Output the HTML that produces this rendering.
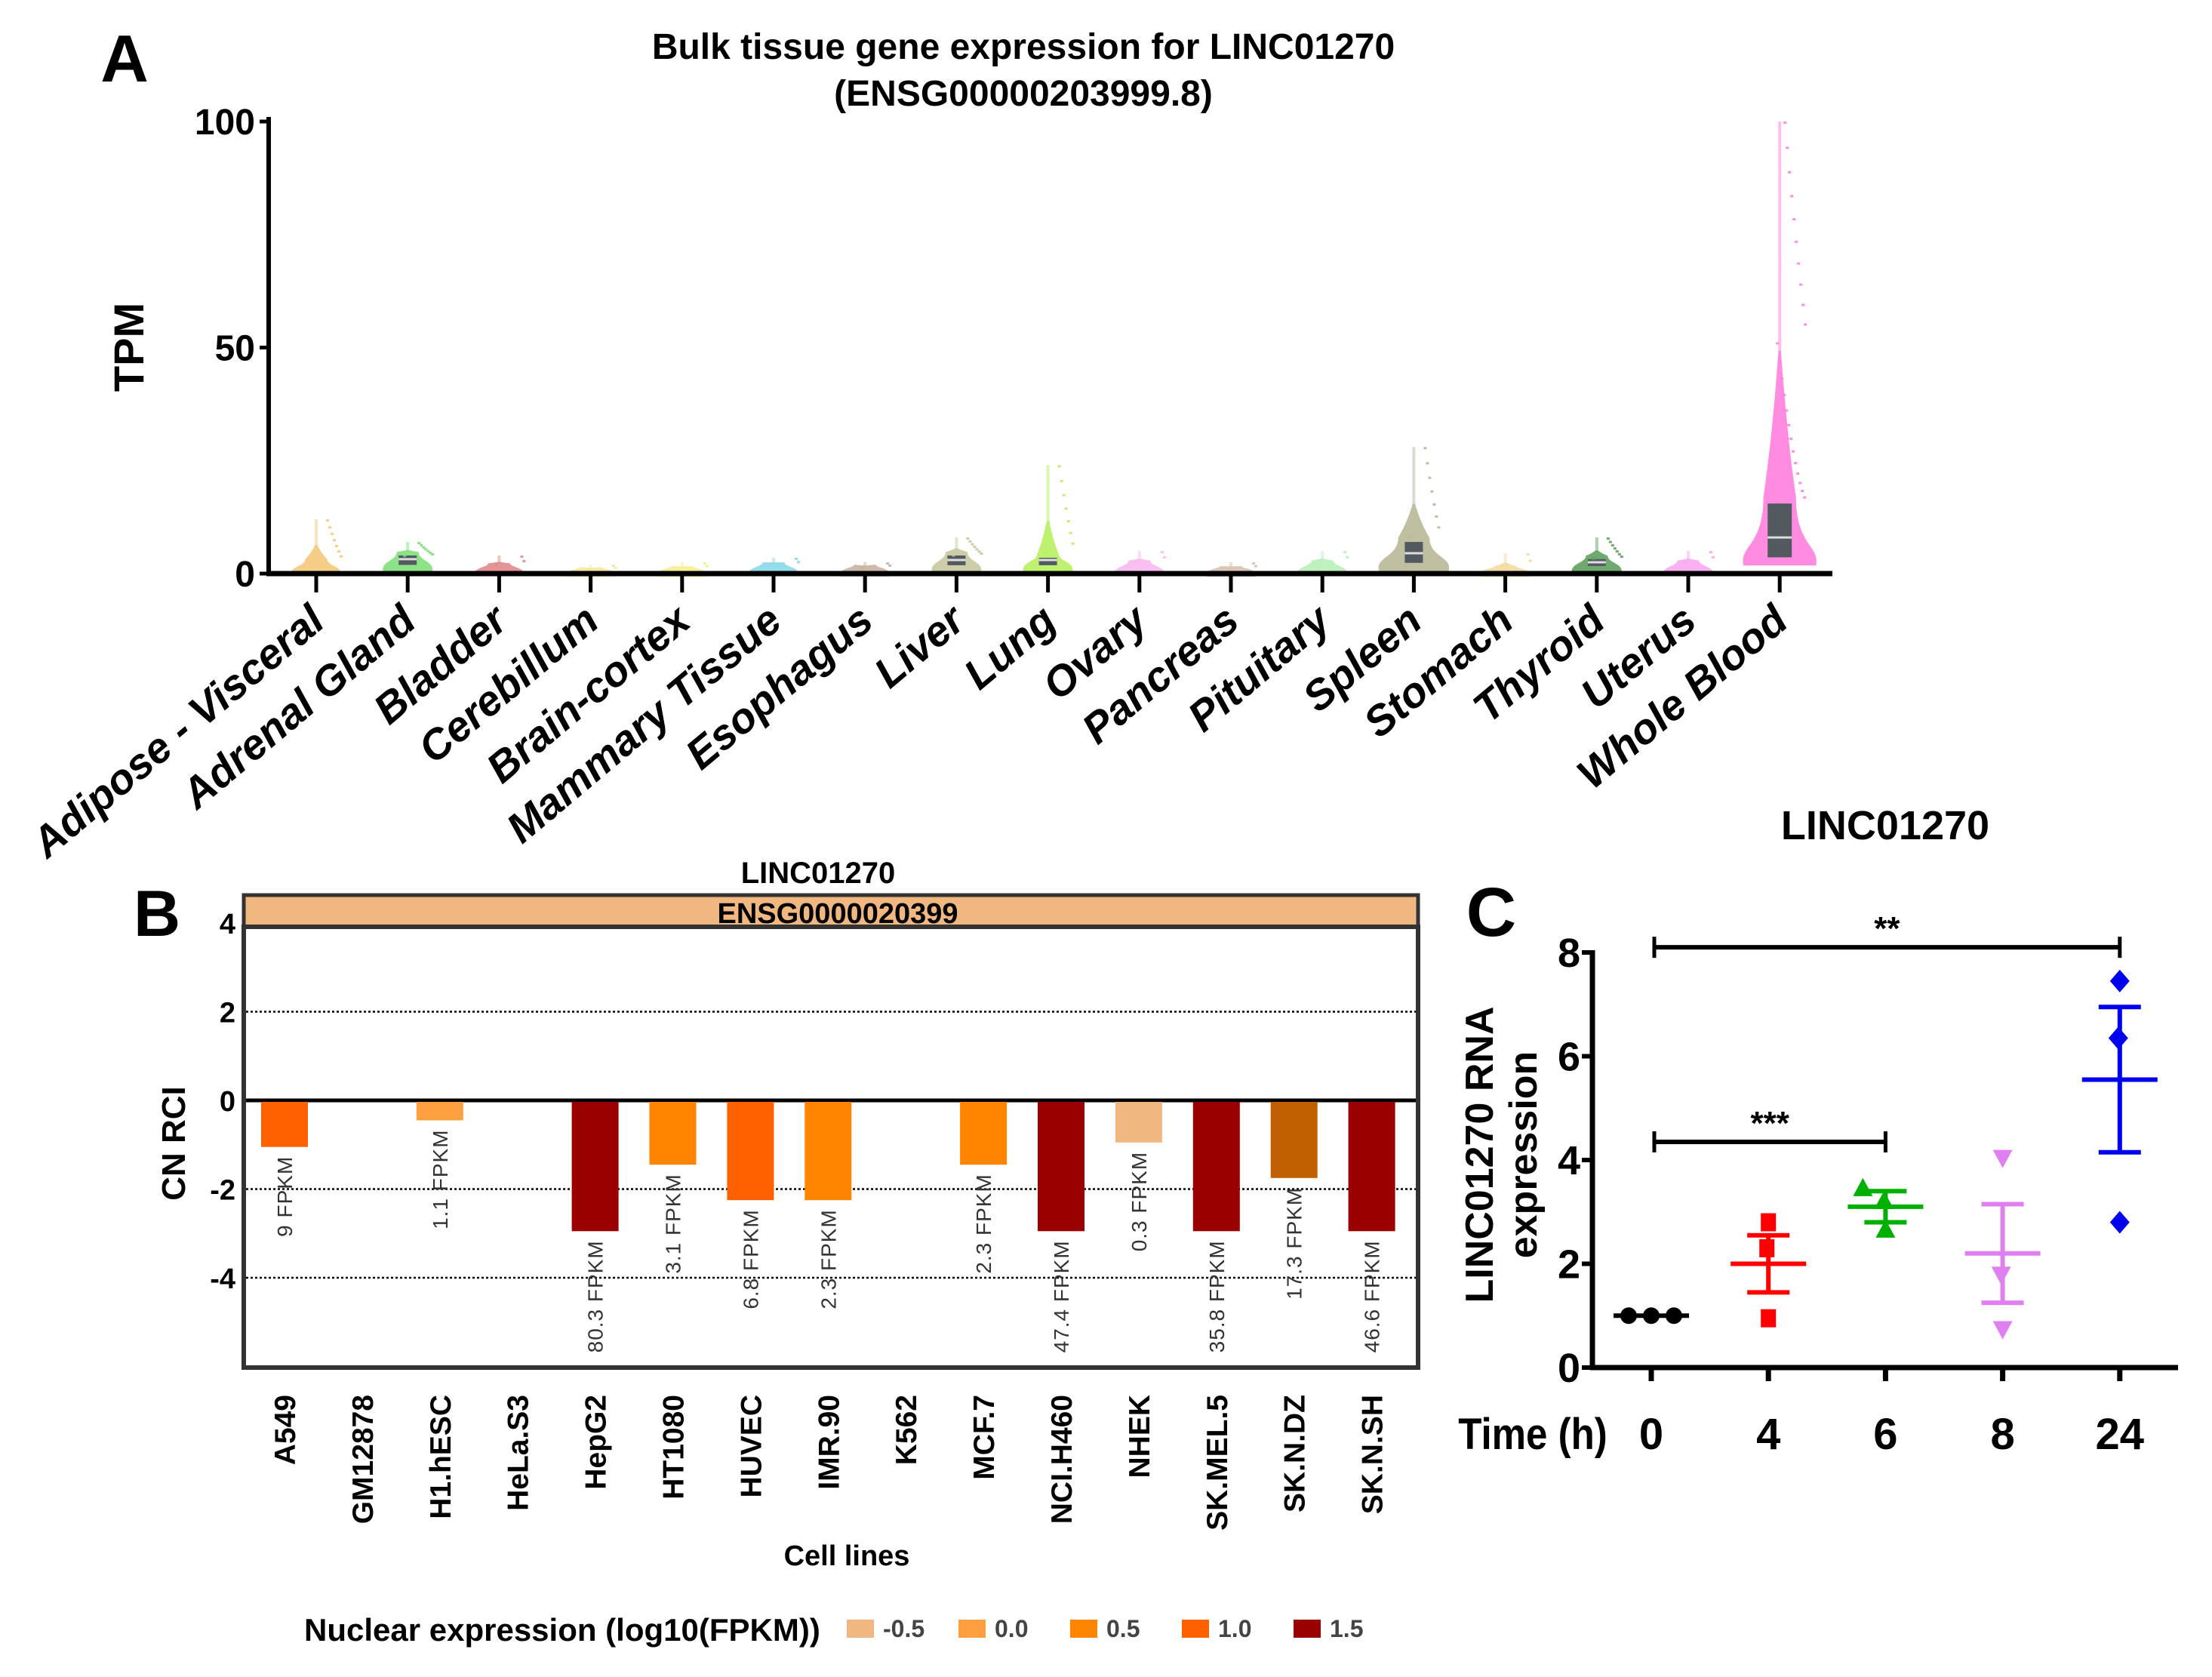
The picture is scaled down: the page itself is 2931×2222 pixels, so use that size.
<!DOCTYPE html>
<html><head><meta charset="utf-8"><style>
html,body{margin:0;padding:0;background:#fff}
svg{display:block}
text{font-family:"Liberation Sans",sans-serif}
</style></head><body>
<svg id="fig" width="2931" height="2222" viewBox="0 0 2931 2222" xmlns="http://www.w3.org/2000/svg">
<g id="pa"></g>
<g id="pb"></g>
<g id="pc"></g>
</svg>
<script>
// ---------- Panel A data ----------
const tissues = ["Adipose - Visceral","Adrenal Gland","Bladder","Cerebillum","Brain-cortex","Mammary Tissue","Esophagus","Liver","Lung","Ovary","Pancreas","Pituitary","Spleen","Stomach","Thyroid","Uterus","Whole Blood"];
const tissueMedian = [1.5,3.2,1.2,0.6,0.8,1.3,1.0,3.0,3.0,1.5,0.8,1.5,4.5,0.8,2.5,1.5,8];
const tissueQ3 = [2.5,4,1.6,0.8,1,1.8,1.3,4,3.5,2.2,1,2.2,7,1,3.2,2.2,15.5];
const tissueMax = [12,7,4,2,2.5,3.5,2.5,8,24,5,2.5,5,28,4.5,8,5,100];
const tissueColor = ["#f5c87a","#7fe07a","#e08a8a","#f5e6a0","#f5ee90","#8ad8e8","#c8b0a0","#c8c8a0","#b8f060","#f8b8f0","#d8c0b0","#b8f0b8","#b8b898","#f5d8a0","#60a060","#f8a8f0","#ff80dd"];
// ---------- Panel B data ----------
const cellLines = ["A549","GM12878","H1.hESC","HeLa.S3","HepG2","HT1080","HUVEC","IMR.90","K562","MCF.7","NCI.H460","NHEK","SK.MEL.5","SK.N.DZ","SK.N.SH"];
const cnRci = [-1.05,null,-0.45,null,-2.95,-1.45,-2.25,-2.25,null,-1.45,-2.95,-0.95,-2.95,-1.75,-2.95];
const fpkmLabels = ["9 FPKM","","1.1 FPKM","","80.3 FPKM","3.1 FPKM","6.8 FPKM","2.3 FPKM","","2.3 FPKM","47.4 FPKM","0.3 FPKM","35.8 FPKM","17.3 FPKM","46.6 FPKM"];
const barColor = ["#ff6000","","#ffa040","","#9b0000","#ff8500","#ff6000","#ff8500","","#ff8500","#9b0000","#f0b880","#9b0000","#c06000","#9b0000"];
const bTicks = [4,2,0,-2,-4];
const legendLabels = ["-0.5","0.0","0.5","1.0","1.5"];
const legendColors = ["#f0b880","#ffa040","#ff8500","#ff6000","#9b0000"];
// ---------- Panel C data ----------
const timeLabels = ["0","4","6","8","24"];
const points = [[1,1,1],[2.8,2.3,0.95],[3.45,3.2,2.65],[4.05,1.8,0.75],[7.45,6.35,2.8]];
const means = [1.0,2.0,3.1,2.2,5.55];
const sems = [0,0.55,0.3,0.95,1.4];
const cColors = ["#000000","#ff0000","#00b000","#e080f0","#0000ee"];
const cTicks = [0,2,4,6,8];

const NS="http://www.w3.org/2000/svg";
function mk(parent,tag,attrs,txt){const e=document.createElementNS(NS,tag);for(const k in attrs)e.setAttribute(k,attrs[k]);if(txt!==undefined)e.textContent=txt;parent.appendChild(e);return e;}

// ===== Panel A =====
const pa=document.getElementById('pa');
const ay=v=>760-(v/100)*599;
const ax=i=>419+i*121.2;
let t;
t=mk(pa,'text',{x:165,y:108,'font-size':88,'font-weight':'bold','text-anchor':'middle'},'A');

t=mk(pa,'text',{x:1356,y:78,'font-size':48,'font-weight':'bold','text-anchor':'middle'},'Bulk tissue gene expression for LINC01270');

t=mk(pa,'text',{x:1356,y:140,'font-size':48,'font-weight':'bold','text-anchor':'middle'},'(ENSG00000203999.8)');

t=mk(pa,'text',{x:0,y:0,'font-size':56,'font-weight':'bold','text-anchor':'middle',transform:'translate(190,460) rotate(-90)'},'TPM');

[0,50,100].forEach(v=>{
  t=mk(pa,'text',{x:338,y:ay(v)+17,'font-size':48,'font-weight':'bold','text-anchor':'end'},String(v));
  
  mk(pa,'line',{x1:344,x2:358,y1:ay(v),y2:ay(v),stroke:'#000','stroke-width':5});
});
// violins
tissues.forEach((n,i)=>{
  const cx=ax(i), base=Math.max(0.3,tissueMedian[i]*0.35), top=tissueMax[i];
  const w = i===16?48:(i===12?46:32);
  const yb=ay(base)+6;
  const yBulge=ay(tissueMedian[i]*0.7+0.5);
  const yNeck=ay(Math.min(top,tissueQ3[i]*1.05+0.6));
  const yThin=ay(Math.min(top,tissueQ3[i]+(top-tissueQ3[i])*0.4));
  const nw=w*0.45;
  const d=`M${cx-w},${yb} C${cx-w-6},${yBulge} ${cx-nw},${yBulge} ${cx-nw},${yNeck} C${cx-nw*0.35},${(yNeck+yThin)/2} ${cx-2},${yThin} ${cx-1.5},${yThin} L${cx+1.5},${yThin} C${cx+2},${yThin} ${cx+nw*0.35},${(yNeck+yThin)/2} ${cx+nw},${yNeck} C${cx+nw},${yBulge} ${cx+w+6},${yBulge} ${cx+w},${yb} Z`;
  const v=mk(pa,'path',{d:d,fill:tissueColor[i],opacity:0.9});
  
  
  mk(pa,'rect',{x:cx-2,y:ay(top),width:4,height:yThin-ay(top)+2,fill:tissueColor[i],opacity:0.5});
  if(tissueQ3[i]>2.5){
    const bw=i===16?16:12;
    const b=mk(pa,'rect',{x:cx-bw,y:ay(tissueQ3[i]),width:bw*2,height:ay(base+0.8)-ay(tissueQ3[i]),fill:'#525a60'});
    
    mk(pa,'line',{x1:cx-bw,x2:cx+bw,y1:ay(tissueMedian[i]),y2:ay(tissueMedian[i]),stroke:'#ddd','stroke-width':3});
  }
  const nd=i===16?24:(top>6?8:3);
  for(let k=0;k<nd;k++){
    const fr=(k+1)/nd;
    const val=tissueQ3[i]+(top-tissueQ3[i])*Math.pow(fr,i===16?1.6:1.3);
    mk(pa,'rect',{x:cx+((k*37)%40)-6,y:ay(val),width:4,height:3,fill:tissueColor[i],opacity:0.9});
  }
  mk(pa,'line',{x1:cx,x2:cx,y1:760,y2:785,stroke:'#000','stroke-width':5});
  t=mk(pa,'text',{x:0,y:0,'font-size':56,'font-weight':'bold','font-style':'italic','text-anchor':'end',transform:`translate(${cx+14},${828}) rotate(-40)`},n);
  
});
mk(pa,'line',{x1:356,x2:356,y1:155,y2:763,stroke:'#000','stroke-width':6});
mk(pa,'line',{x1:353,x2:2428,y1:760,y2:760,stroke:'#000','stroke-width':7});

// ===== Panel B =====
const pb=document.getElementById('pb');
const by=v=>1458-v*58.75;
const bx=i=>377+i*102.9;
t=mk(pb,'text',{x:208,y:1240,'font-size':86,'font-weight':'bold','text-anchor':'middle'},'B');

t=mk(pb,'text',{x:1084,y:1170,'font-size':40,'font-weight':'bold','text-anchor':'middle'},'LINC01270');

let r=mk(pb,'rect',{x:323,y:1186,width:1556,height:42,fill:'#f0b880',stroke:'#333','stroke-width':5});

t=mk(pb,'text',{x:1110,y:1223,'font-size':38,'font-weight':'bold','text-anchor':'middle'},'ENSG0000020399');

r=mk(pb,'rect',{x:323,y:1228,width:1556,height:584,fill:'none',stroke:'#333','stroke-width':6});

bTicks.forEach(v=>{
  if(v!==0&&v!==4){const g=mk(pb,'line',{x1:326,x2:1876,y1:by(v),y2:by(v),stroke:'#000','stroke-width':2.5,'stroke-dasharray':'3,3'});}
  t=mk(pb,'text',{x:312,y:by(v)+14,'font-size':38,'font-weight':'bold','text-anchor':'end'},String(v));
  
});
mk(pb,'line',{x1:326,x2:1876,y1:by(0),y2:by(0),stroke:'#000','stroke-width':5});
t=mk(pb,'text',{x:0,y:0,'font-size':44,'font-weight':'bold','text-anchor':'middle',transform:'translate(245,1515) rotate(-90)'},'CN RCI');

cellLines.forEach((n,i)=>{
  const cx=bx(i);
  if(cnRci[i]!==null){
    const b=mk(pb,'rect',{x:cx-31,y:by(0)+2,width:62,height:by(cnRci[i])-by(0)-2,fill:barColor[i]});
    
    
    const l=mk(pb,'text',{x:0,y:0,'font-size':28,fill:'#333','letter-spacing':1,'text-anchor':'end',transform:`translate(${cx+10},${by(cnRci[i])+12}) rotate(-90)`},fpkmLabels[i]);
    
  }
  t=mk(pb,'text',{x:0,y:0,'font-size':39,'font-weight':'bold','text-anchor':'end',transform:`translate(${cx+14},1848) rotate(-90)`},n);
  
});
t=mk(pb,'text',{x:1122,y:2074,'font-size':38,'font-weight':'bold','text-anchor':'middle'},'Cell lines');

t=mk(pb,'text',{x:403,y:2174,'font-size':42,'font-weight':'bold'},'Nuclear expression (log10(FPKM))');

legendLabels.forEach((lab,i)=>{
  const lx=1122+i*148;
  const s=mk(pb,'rect',{x:lx,y:2146,width:36,height:24,fill:legendColors[i]});
  
  t=mk(pb,'text',{x:lx+48,y:2169,'font-size':32,'font-weight':'bold',fill:'#444'},lab);
  
});

// ===== Panel C =====
const pc=document.getElementById('pc');
const cy=v=>1812-v*68.75;
const cx=i=>2188+i*155.2;
t=mk(pc,'text',{x:1976,y:1240,'font-size':92,'font-weight':'bold','text-anchor':'middle'},'C');

t=mk(pc,'text',{x:2498,y:1112,'font-size':54,'font-weight':'bold','text-anchor':'middle'},'LINC01270');

cTicks.forEach(v=>{
  t=mk(pc,'text',{x:2094,y:cy(v)+19,'font-size':54,'font-weight':'bold','text-anchor':'end'},String(v));
  
  mk(pc,'line',{x1:2096,x2:2110,y1:cy(v),y2:cy(v),stroke:'#000','stroke-width':6});
});
mk(pc,'line',{x1:2110,x2:2110,y1:1259,y2:1815,stroke:'#000','stroke-width':7});
mk(pc,'line',{x1:2107,x2:2886,y1:1812,y2:1812,stroke:'#000','stroke-width':7});
t=mk(pc,'text',{x:0,y:0,'font-size':52,'font-weight':'bold','text-anchor':'middle',transform:'translate(1978,1530) rotate(-90)'},'LINC01270 RNA');

t=mk(pc,'text',{x:0,y:0,'font-size':52,'font-weight':'bold','text-anchor':'middle',transform:'translate(2036,1530) rotate(-90)'},'expression');

t=mk(pc,'text',{x:2031,y:1920,'font-size':58,'font-weight':'bold','text-anchor':'middle',transform:'translate(2031,0) scale(0.88,1) translate(-2031,0)'},'Time (h)');

timeLabels.forEach((lab,i)=>{
  const x=cx(i);
  mk(pc,'line',{x1:x,x2:x,y1:1812,y2:1830,stroke:'#000','stroke-width':7});
  t=mk(pc,'text',{x:x,y:1920,'font-size':58,'font-weight':'bold','text-anchor':'middle'},lab);
  
  const col=cColors[i];
  const g=mk(pc,'g',{});
  
  
  points[i].forEach((v,k)=>{
    const px = i===0 ? x-30+k*30 : x+((k===1)?-2:0);
    const py=cy(v);
    let m;
    if(i===0) m=mk(g,'circle',{cx:px,cy:py,r:11,fill:col});
    else if(i===1) m=mk(g,'rect',{x:px-10,y:py-12,width:20,height:24,fill:col});
    else if(i===2) m=mk(g,'path',{d:`M${px+(k===0?-30:0)},${py-14} l13,24 l-26,0 Z`,fill:col});
    else if(i===3) m=mk(g,'path',{d:`M${px},${py+14} l13,-24 l-26,0 Z`,fill:col});
    else m=mk(g,'path',{d:`M${px},${py-15} l13,15 l-13,15 l-13,-15 Z`,fill:col});
    
  });
  const mw = 50, ew = 28;
  mk(g,'line',{x1:x-mw,x2:x+mw,y1:cy(means[i]),y2:cy(means[i]),stroke:col,'stroke-width':6});
  if(sems[i]>0){
    mk(g,'line',{x1:x,x2:x,y1:cy(means[i]+sems[i]),y2:cy(means[i]-sems[i]),stroke:col,'stroke-width':6});
    mk(g,'line',{x1:x-ew,x2:x+ew,y1:cy(means[i]+sems[i]),y2:cy(means[i]+sems[i]),stroke:col,'stroke-width':6});
    mk(g,'line',{x1:x-ew,x2:x+ew,y1:cy(means[i]-sems[i]),y2:cy(means[i]-sems[i]),stroke:col,'stroke-width':6});
  }
});
function sig(i0,i1,v,label,name){
  const g=mk(pc,'g',{});
  
  
  const x0=cx(i0)+4,x1=cx(i1),y=cy(v);
  mk(g,'line',{x1:x0,x2:x1,y1:y,y2:y,stroke:'#000','stroke-width':6});
  mk(g,'line',{x1:x0,x2:x0,y1:y-14,y2:y+14,stroke:'#000','stroke-width':5});
  mk(g,'line',{x1:x1,x2:x1,y1:y-14,y2:y+14,stroke:'#000','stroke-width':5});
  mk(g,'text',{x:(x0+x1)/2,y:y-10,'font-size':44,'font-weight':'bold','text-anchor':'middle'},label);
}
sig(0,4,8.1,'**','significance-0-vs-24');
sig(0,2,4.35,'***','significance-0-vs-6');
</script>
</body></html>
